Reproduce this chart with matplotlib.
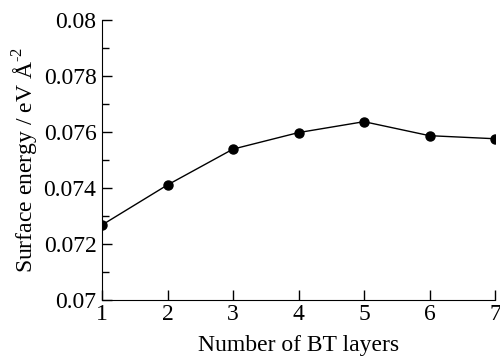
import matplotlib.pyplot as plt
import numpy as np

plt.rcParams['font.family'] = ['Liberation Serif', 'DejaVu Serif']
plt.rcParams['mathtext.fontset'] = 'custom'
plt.rcParams['mathtext.rm'] = 'Liberation Serif'

capas = [1, 2, 3, 4, 5, 6, 7]
energia = [0.07268, 0.07411, 0.07539, 0.07598, 0.07637, 0.07587, 0.07576]

y_ticks = [0.07, 0.072, 0.074, 0.076, 0.078, 0.08]
y_labels = ['0.07', '0.072', '0.074', '0.076', '0.078', '0.08']

fig = plt.figure(figsize=(5, 3.58), dpi=100)
ax = fig.add_axes([0.204, 0.162, 0.786, 0.782])

ax.plot(capas, energia, color='black', lw=1, marker='o', ms=6.5)

ax.set_xlim(1, 7)
ax.set_ylim(0.07, 0.08)
ax.set_xticks(capas)
ax.set_yticks(y_ticks)
ax.set_yticklabels(y_labels)
ax.set_yticks(np.arange(0.071, 0.08, 0.002), minor=True)

for s in ['top', 'right']:
    ax.spines[s].set_visible(False)
ax.tick_params(direction='in', labelsize=17, length=7, width=1)
ax.tick_params(axis='x', pad=3)
ax.tick_params(axis='y', pad=4)
ax.tick_params(which='minor', direction='in', length=5, width=1)

ax.set_xlabel('Number of BT layers', fontsize=17, labelpad=7)
ax.set_ylabel(r'Surface energy / eV Å$^{\text{-2}}$', fontsize=17, labelpad=2)

plt.savefig('out.png', dpi=100)
